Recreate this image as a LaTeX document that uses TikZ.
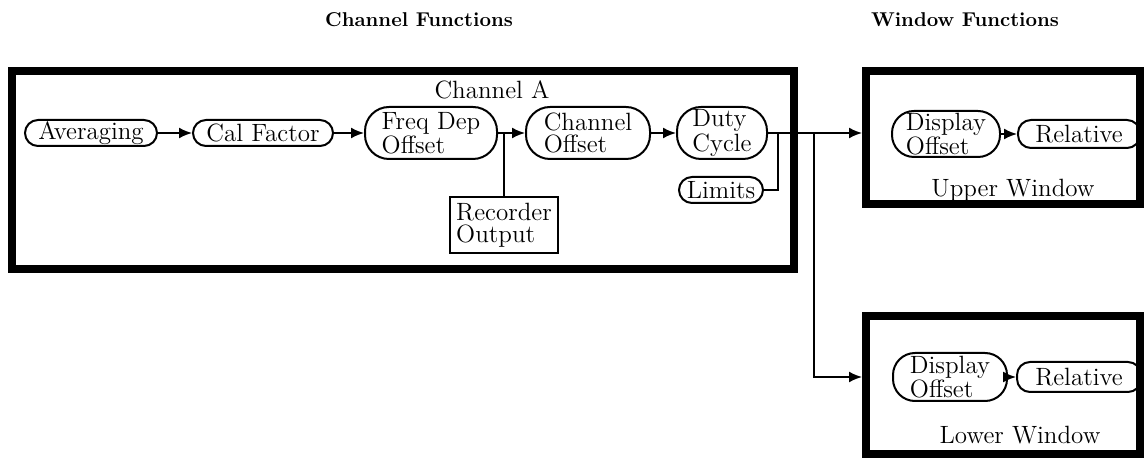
\documentclass[tikz,border=0pt]{standalone}
\usepackage{tikz}
\usetikzlibrary{arrows.meta,positioning,calc}
\newcommand{\fnfont}{\fontsize{12.5}{11}\selectfont}
\newcommand{\tightfont}{\fontsize{12.5}{10}\selectfont}
\newcommand{\headfont}{\fontsize{10}{11}\selectfont\bfseries}
\tikzset{
  fnbox/.style={draw,line width=1pt,rounded corners=6.5pt,inner sep=0pt,font=\fnfont},
  fnboxtwo/.style={fnbox,rounded corners=12pt,align=left},
  dspbox/.style={fnboxtwo,rounded corners=11pt,font=\tightfont},
  outbox/.style={draw,line width=0.9pt,inner sep=0pt,align=left,font=\fnfont},
  groupbox/.style={draw,line width=4pt,inner sep=0pt},
  flow/.style={line width=0.9pt,-{Latex[length=6.5pt,width=5.5pt]}},
  tap/.style={line width=0.9pt},
  grouplbl/.style={font=\fnfont},
  headlbl/.style={font=\headfont}
}

\begin{document}
\begin{tikzpicture}[x=0.5pt,y=-0.5pt]
\useasboundingbox (0,0) rectangle (1144,458);
% headings
\node[headlbl] (hdchan) at (419,20) {Channel Functions};
\node[headlbl] (hdwin) at (965,20) {Window Functions};
% group frames
\node[groupbox,minimum width=391pt,minimum height=99pt] (chanA) at (403,170) {};
\node[groupbox,minimum width=137pt,minimum height=66.5pt] (upwin) at (1003,137.5) {};
\node[groupbox,minimum width=137pt,minimum height=69pt] (lowwin) at (1003,385) {};
\node[grouplbl] (chanlbl) at (492,90) {Channel A};
\node[grouplbl] (uplbl) at (1013,190) {Upper Window};
\node[grouplbl] (lowlbl) at (1020,435) {Lower Window};
% channel functions
\node[fnbox,minimum width=66pt,minimum height=13pt] (avg) at (91,133) {Averaging};
\node[fnbox,minimum width=70pt,minimum height=13pt] (cal) at (263,133) {Cal Factor};
\node[fnboxtwo,minimum width=66pt,minimum height=26pt] (fdo) at (431,133) {Freq Dep\\Offset};
\node[fnboxtwo,minimum width=62pt,minimum height=26pt] (cho) at (588,133) {Channel\\Offset};
\node[fnboxtwo,minimum width=45pt,minimum height=26pt] (duty) at (722,133) {Duty\\Cycle};
\node[fnbox,minimum width=42pt,minimum height=13pt] (lim) at (721,190) {Limits};
\node[outbox,minimum width=54pt,minimum height=28pt] (rec) at (504,225) {Recorder\\Output};
% window functions
\node[dspbox,minimum width=54pt,minimum height=23pt] (updsp) at (946,134) {Display\\Offset};
\node[fnbox,minimum width=61pt,minimum height=14pt] (uprel) at (1079,134) {Relative};
\node[dspbox,minimum width=57pt,minimum height=24pt] (lowdsp) at (950,377) {Display\\Offset};
\node[fnbox,minimum width=62pt,minimum height=15pt] (lowrel) at (1079,377) {Relative};
% connectors
\coordinate (tapA) at (778,133);
\coordinate (tapB) at (814,133);
\draw[flow] (avg) -- (cal);
\draw[flow] (cal) -- (fdo);
\draw[flow] (fdo) -- (cho);
\draw[tap] (rec.north) |- (fdo.east);
\draw[flow] (cho) -- (duty);
\draw[flow] (duty.east) -- (duty.east -| upwin.west);
\draw[tap] (lim.east) -| (tapA);
\draw[flow] (tapB) |- (lowdsp -| lowwin.west);
\draw[flow] (updsp) -- (uprel);
\draw[flow] (lowdsp) -- (lowrel);
\end{tikzpicture}
\end{document}
